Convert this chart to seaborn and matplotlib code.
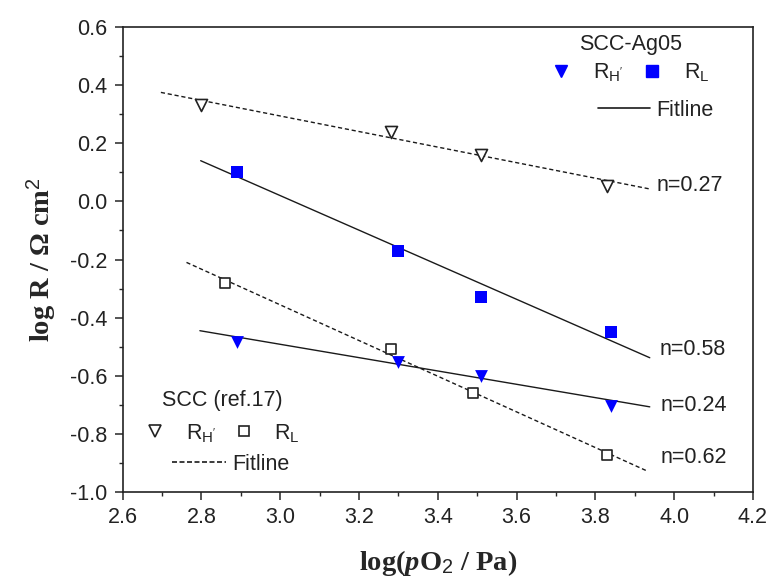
import numpy as np
import pandas as pd
import matplotlib
matplotlib.use('Agg')
import matplotlib.pyplot as plt
from matplotlib.lines import Line2D
from matplotlib.ticker import MultipleLocator
import seaborn as sns

# SCC-Ag05 (filled, blue)
ag_x_H = [2.89, 3.30, 3.51, 3.84]
ag_y_H = [-0.483, -0.554, -0.601, -0.704]
ag_x_L = [2.89, 3.30, 3.51, 3.84]
ag_y_L = [0.100, -0.170, -0.328, -0.448]

# SCC (ref.17) (open, black)
ref_x_H = [2.80, 3.28, 3.51, 3.83]
ref_y_H = [0.332, 0.238, 0.160, 0.054]
ref_x_L = [2.86, 3.28, 3.49, 3.83]
ref_y_L = [-0.280, -0.507, -0.658, -0.871]

# fit line end points
fit_ag_H_x = [2.796, 3.938]
fit_ag_H_y = [-0.445, -0.707]
fit_ag_L_x = [2.798, 3.938]
fit_ag_L_y = [0.140, -0.538]
fit_ref_H_x = [2.697, 3.937]
fit_ref_H_y = [0.375, 0.043]
fit_ref_L_x = [2.762, 3.930]
fit_ref_L_y = [-0.210, -0.927]

# slope labels
n_labels = ['n=0.27', 'n=0.58', 'n=0.24', 'n=0.62']
n_x = [3.956, 3.962, 3.965, 3.965]
n_y = [0.056, -0.508, -0.701, -0.883]

sns.set_style('ticks')
plt.rcParams['font.family'] = ['Liberation Sans', 'DejaVu Sans']
plt.rcParams['mathtext.fontset'] = 'custom'
plt.rcParams['mathtext.rm'] = 'Liberation Serif:bold'
plt.rcParams['mathtext.it'] = 'Liberation Serif:bold:italic'
plt.rcParams['mathtext.sf'] = 'Liberation Sans'

FS = 15.5
TXT = '#222222'
BLUE = '#0000ff'

fig = plt.figure(figsize=(7.73, 5.81), dpi=100)
ax = fig.add_axes([0.1587, 0.1532, 0.8154, 0.8003])

# fit lines
for fx, fy, ls in [(fit_ag_L_x, fit_ag_L_y, '-'), (fit_ag_H_x, fit_ag_H_y, '-'),
                   (fit_ref_H_x, fit_ref_H_y, (0, (3, 2))), (fit_ref_L_x, fit_ref_L_y, (0, (3, 2)))]:
    sns.lineplot(x=fx, y=fy, ax=ax, color='#1a1a1a', lw=1.0, linestyle=ls, zorder=2)

# data points
sns.scatterplot(x=ag_x_L, y=ag_y_L, ax=ax, marker='s', s=70, color=BLUE,
                edgecolor=BLUE, linewidth=0, zorder=3)
sns.scatterplot(x=ag_x_H, y=ag_y_H, ax=ax, marker='v', s=85, color=BLUE,
                edgecolor=BLUE, linewidth=0, zorder=3)
sns.scatterplot(x=ref_x_H, y=ref_y_H, ax=ax, marker='v', s=75, facecolor='white',
                edgecolor='#222222', linewidth=1.2, zorder=3)
sns.scatterplot(x=ref_x_L, y=ref_y_L, ax=ax, marker='s', s=45, facecolor='white',
                edgecolor='#222222', linewidth=1.2, zorder=3)

for lab, tx, ty in zip(n_labels, n_x, n_y):
    ax.text(tx, ty, lab, fontsize=FS, color=TXT, va='center', ha='left')

ax.set_xlim(2.6, 4.2)
ax.set_ylim(-1.0, 0.6)
ax.xaxis.set_major_locator(MultipleLocator(0.2))
ax.xaxis.set_minor_locator(MultipleLocator(0.1))
ax.yaxis.set_major_locator(MultipleLocator(0.2))
ax.yaxis.set_minor_locator(MultipleLocator(0.1))
ax.set_xticklabels([f'{v:.1f}' for v in ax.get_xticks()])
ax.set_yticklabels([f'{v:.1f}' for v in ax.get_yticks()])
ax.tick_params(which='major', direction='out', length=6, width=1.1, labelsize=FS,
               labelcolor=TXT, pad=5)
ax.tick_params(which='minor', direction='out', length=3, width=1.0)
for sp in ax.spines.values():
    sp.set_visible(True)
    sp.set_linewidth(1.2)
    sp.set_color('#222222')

ax.set_xlabel(r'log($\mathit{p}$O$_{\mathsf{2}}$ / Pa)', family='Liberation Serif',
              fontweight='bold', fontsize=20.5, labelpad=14)
ax.set_ylabel('log R / Ω cm$^{\\mathsf{2}}$', family='Liberation Serif',
              fontweight='bold', fontsize=20.5, labelpad=9)

# legends
rH = r"R$_{\mathsf{H'}}$"
rL = r"R$_{\mathsf{L}}$"
h_ag = [Line2D([], [], ls='none', marker='v', ms=9, color=BLUE, mec=BLUE),
        Line2D([], [], ls='none', marker='s', ms=8, color=BLUE, mec=BLUE)]
leg1 = ax.legend(h_ag, [rH, rL], ncol=2, title='SCC-Ag05', loc='upper center',
                 bbox_to_anchor=(0.805, 1.018), frameon=False, fontsize=FS,
                 title_fontsize=FS, handlelength=1.0, handletextpad=1.0,
                 columnspacing=0.8, borderpad=0.2, labelspacing=0.3, labelcolor=TXT)
leg1.get_title().set_color(TXT)
ax.add_artist(leg1)
leg2 = ax.legend([Line2D([], [], color='#1a1a1a', lw=1.2)], ['Fitline'],
                 loc='upper left', bbox_to_anchor=(0.73, 0.876), frameon=False,
                 fontsize=FS, handlelength=2.4, handletextpad=0.3, borderpad=0.2,
                 labelcolor=TXT)
ax.add_artist(leg2)

h_ref = [Line2D([], [], ls='none', marker='v', ms=8, mfc='white', mec='#222222', mew=1.2),
         Line2D([], [], ls='none', marker='s', ms=6.5, mfc='white', mec='#222222', mew=1.2)]
leg3 = ax.legend(h_ref, [rH, rL], ncol=2, title='SCC (ref.17)', loc='upper center',
                 bbox_to_anchor=(0.158, 0.252), frameon=False, fontsize=FS,
                 title_fontsize=FS, handlelength=1.0, handletextpad=0.9,
                 columnspacing=0.8, borderpad=0.2, labelcolor=TXT)
leg3.get_title().set_color(TXT)
ax.add_artist(leg3)
ax.legend([Line2D([], [], color='#1a1a1a', lw=1.2, ls=(0, (3, 1.5)))], ['Fitline'],
          loc='upper left', bbox_to_anchor=(0.055, 0.115), frameon=False,
          fontsize=FS, handlelength=2.5, handletextpad=0.3, borderpad=0.2,
          labelcolor=TXT)

fig.savefig('out.png', dpi=100)
